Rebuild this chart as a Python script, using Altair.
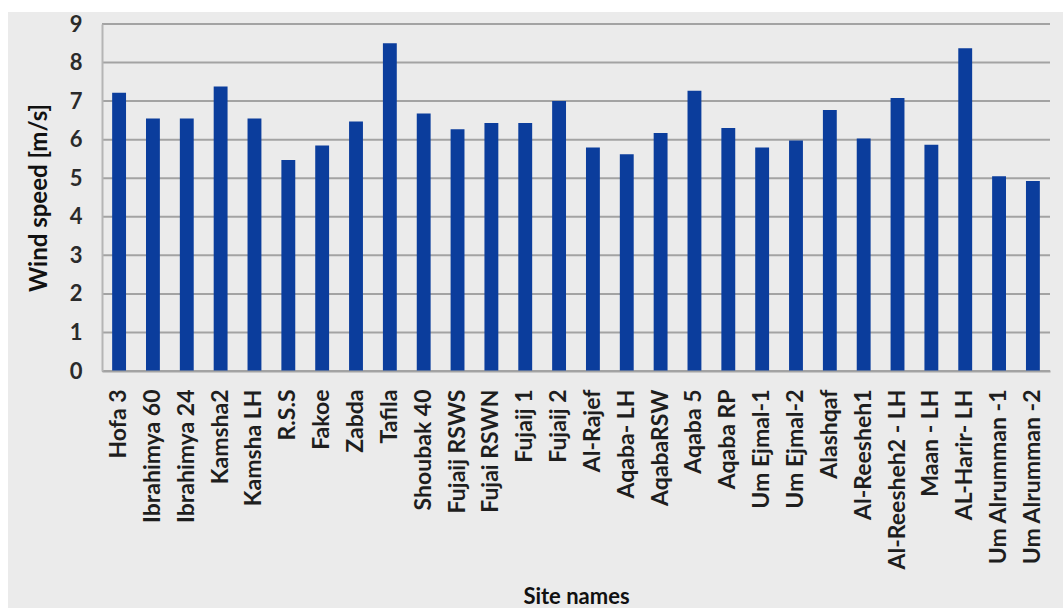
import altair as alt
import pandas as pd

# Mean wind speed per measuring site
sites = [
    "Hofa 3", "Ibrahimya 60", "Ibrahimya 24", "Kamsha2", "Kamsha LH", "R.S.S",
    "Fakoe", "Zabda", "Tafila", "Shoubak 40", "Fujaij RSWS", "Fujai RSWN",
    "Fujaij 1", "Fujaij 2", "Al-Rajef", "Aqaba- LH", "AqabaRSW", "Aqaba 5",
    "Aqaba RP", "Um Ejmal-1", "Um Ejmal-2", "Alashqaf", "Al-Reesheh1",
    "Al-Reesheh2 - LH", "Maan - LH", "AL-Harir- LH", "Um Alrumman -1",
    "Um Alrumman -2",
]
wind_speed = [
    7.22, 6.55, 6.55, 7.38, 6.55, 5.47,
    5.85, 6.47, 8.50, 6.68, 6.27, 6.43,
    6.43, 7.00, 5.80, 5.62, 6.17, 7.27,
    6.30, 5.80, 5.98, 6.77, 6.03,
    7.08, 5.87, 8.37, 5.05,
    4.93,
]
grid_values = [0, 1, 2, 3, 4, 5, 6, 7, 8, 9]

df = pd.DataFrame({"site": sites, "speed": wind_speed})
grid_df = pd.DataFrame({"v": grid_values})

FONT = "Lato"
BAR = "#0b3d9c"
PANEL = "#ebebeb"

y_scale = alt.Scale(domain=[0, 9], nice=False)

y_axis = alt.Axis(
    title="Wind speed [m/s]",
    values=grid_values,
    tickCount=10,
    labelOverlap=False,
    grid=False,
    ticks=False,
    labelPadding=20,
    labelFont=FONT,
    labelFontSize=22,
    labelFontWeight="bold",
    labelColor="#2a2a2a",
    titleFont=FONT,
    titleFontSize=24,
    titleFontWeight="bold",
    titleColor="#111111",
    titleX=-51,
    domainColor="#b5b5b5",
    domainWidth=2,
    zindex=1,
)

# Grey chart panel behind everything
panel = alt.Chart(alt.Data(values=[{}])).mark_rect(color=PANEL).encode(
    x=alt.value(-94), x2=alt.value(961), y=alt.value(-12), y2=alt.value(584)
)

grid = alt.Chart(grid_df).mark_rule(color="#a3a3a3", strokeWidth=2).encode(
    y=alt.Y("v:Q", scale=y_scale, axis=y_axis)
)

bars = alt.Chart(df).mark_bar(color=BAR).encode(
    x=alt.X(
        "site:N",
        sort=sites,
        scale=alt.Scale(paddingInner=0.59, paddingOuter=0.3),
        axis=alt.Axis(
            title="Site names",
            labelAngle=-90,
            labelAlign="right",
            labelBaseline="middle",
            labelPadding=18,
            ticks=False,
            labelFont=FONT,
            labelFontSize=23,
            labelFontWeight="bold",
            labelColor="#1e1e1e",
            titleFont=FONT,
            titleFontSize=22,
            titleFontWeight="bold",
            titleColor="#111111",
            titleBaseline="alphabetic",
            titleY=232,
            domainColor="#a3a3a3",
            domainWidth=2,
            zindex=1,
            labelLimit=400,
        ),
    ),
    y=alt.Y("speed:Q", scale=y_scale, axis=y_axis),
)

chart = (
    alt.layer(panel, grid, bars)
    .properties(
        width=948,
        height=347,
        background="white",
        autosize=alt.AutoSizeParams(type="none"),
        padding={"left": 102, "top": 24, "right": 13, "bottom": 237},
    )
    .configure_view(stroke=None)
)

chart.save("out.html", embed_options={"renderer": "svg", "actions": False})
